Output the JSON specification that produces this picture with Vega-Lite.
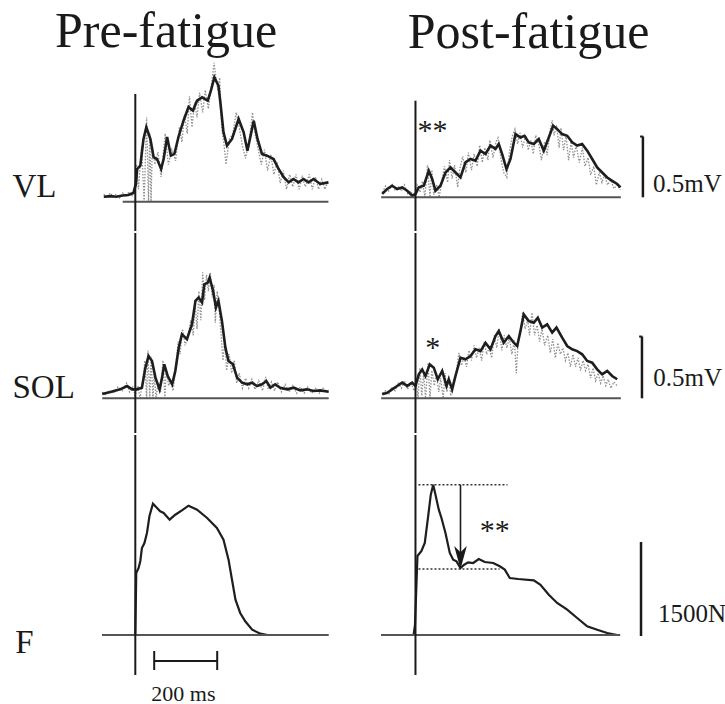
{
  "$schema": "https://vega.github.io/schema/vega-lite/v6.json",
  "background": "white",
  "padding": {"left": 3, "top": 7, "right": 0, "bottom": 0},
  "config": {
    "view": {"stroke": null},
    "axis": {"disable": true},
    "font": "Liberation Serif",
    "text": {"font": "Liberation Serif", "color": "#1a1a1a"}
  },
  "datasets": {
    "VL_pre_trials": [
      {"ms":-100,"mV":0.06},{"ms":-90,"mV":0.03},{"ms":-80,"mV":0.07},{"ms":-70,"mV":0.04},{"ms":-60,"mV":0.06},{"ms":-50,"mV":0.03},{"ms":-40,"mV":0.07},{"ms":-30,"mV":0.04},{"ms":-20,"mV":0.08},{"ms":-10,"mV":0.05},{"ms":-4,"mV":0.1},{"ms":4,"mV":0.3},{"ms":10,"mV":0.1},{"ms":20,"mV":0.45},{"ms":28,"mV":0.0},{"ms":36,"mV":0.68},{"ms":42,"mV":0.0},{"ms":46,"mV":0.55},{"ms":50,"mV":0.0},{"ms":54,"mV":0.45},{"ms":62,"mV":0.3},{"ms":72,"mV":0.4},{"ms":82,"mV":0.2},{"ms":95,"mV":0.55},{"ms":105,"mV":0.3},{"ms":116,"mV":0.42},{"ms":128,"mV":0.33},{"ms":140,"mV":0.6},{"ms":148,"mV":0.48},{"ms":156,"mV":0.7},{"ms":165,"mV":0.55},{"ms":172,"mV":0.85},{"ms":180,"mV":0.6},{"ms":188,"mV":0.8},{"ms":196,"mV":0.68},{"ms":204,"mV":0.88},{"ms":214,"mV":0.72},{"ms":222,"mV":0.9},{"ms":232,"mV":0.75},{"ms":242,"mV":0.95},{"ms":250,"mV":1.12},{"ms":256,"mV":1.0},{"ms":262,"mV":0.9},{"ms":268,"mV":1.0},{"ms":274,"mV":0.6},{"ms":282,"mV":0.45},{"ms":288,"mV":0.3},{"ms":298,"mV":0.5},{"ms":310,"mV":0.55},{"ms":320,"mV":0.72},{"ms":330,"mV":0.6},{"ms":340,"mV":0.45},{"ms":350,"mV":0.35},{"ms":362,"mV":0.5},{"ms":372,"mV":0.72},{"ms":380,"mV":0.55},{"ms":392,"mV":0.4},{"ms":400,"mV":0.3},{"ms":410,"mV":0.42},{"ms":420,"mV":0.25},{"ms":430,"mV":0.38},{"ms":440,"mV":0.22},{"ms":450,"mV":0.32},{"ms":460,"mV":0.15},{"ms":470,"mV":0.25},{"ms":480,"mV":0.1},{"ms":490,"mV":0.22},{"ms":500,"mV":0.12},{"ms":510,"mV":0.22},{"ms":520,"mV":0.1},{"ms":530,"mV":0.2},{"ms":540,"mV":0.12},{"ms":552,"mV":0.22},{"ms":562,"mV":0.1},{"ms":572,"mV":0.2},{"ms":582,"mV":0.1},{"ms":592,"mV":0.18},{"ms":602,"mV":0.1},{"ms":613,"mV":0.17}
    ],
    "VL_pre_mean": [
      {"ms":-100,"mV":0.04},{"ms":-80,"mV":0.045},{"ms":-60,"mV":0.04},{"ms":-40,"mV":0.05},{"ms":-22,"mV":0.054},{"ms":-6,"mV":0.07},{"ms":2,"mV":0.143},{"ms":6,"mV":0.264},{"ms":16,"mV":0.29},{"ms":26,"mV":0.506},{"ms":35,"mV":0.602},{"ms":48,"mV":0.506},{"ms":58,"mV":0.36},{"ms":69,"mV":0.344},{"ms":82,"mV":0.264},{"ms":90,"mV":0.344},{"ms":101,"mV":0.522},{"ms":113,"mV":0.371},{"ms":124,"mV":0.385},{"ms":137,"mV":0.522},{"ms":153,"mV":0.653},{"ms":169,"mV":0.764},{"ms":183,"mV":0.734},{"ms":196,"mV":0.815},{"ms":212,"mV":0.842},{"ms":230,"mV":0.815},{"ms":240,"mV":0.895},{"ms":251,"mV":1.003},{"ms":264,"mV":0.935},{"ms":270,"mV":0.802},{"ms":280,"mV":0.56},{"ms":291,"mV":0.452},{"ms":307,"mV":0.506},{"ms":328,"mV":0.667},{"ms":344,"mV":0.56},{"ms":356,"mV":0.411},{"ms":376,"mV":0.653},{"ms":388,"mV":0.506},{"ms":402,"mV":0.385},{"ms":418,"mV":0.371},{"ms":439,"mV":0.344},{"ms":455,"mV":0.264},{"ms":471,"mV":0.197},{"ms":487,"mV":0.156},{"ms":502,"mV":0.183},{"ms":518,"mV":0.156},{"ms":534,"mV":0.183},{"ms":550,"mV":0.156},{"ms":566,"mV":0.183},{"ms":587,"mV":0.143},{"ms":613,"mV":0.156}
    ],
    "VL_post_trials": [
      {"ms":-105,"mV":0.04},{"ms":-95,"mV":0.09},{"ms":-85,"mV":0.05},{"ms":-75,"mV":0.11},{"ms":-65,"mV":0.06},{"ms":-55,"mV":0.09},{"ms":-45,"mV":0.05},{"ms":-35,"mV":0.1},{"ms":-25,"mV":0.03},{"ms":-15,"mV":0.05},{"ms":-5,"mV":0.0},{"ms":5,"mV":0.1},{"ms":15,"mV":0.04},{"ms":22,"mV":0.13},{"ms":30,"mV":0.0},{"ms":38,"mV":0.26},{"ms":46,"mV":0.0},{"ms":52,"mV":0.22},{"ms":58,"mV":0.02},{"ms":68,"mV":0.1},{"ms":75,"mV":0.0},{"ms":85,"mV":0.15},{"ms":92,"mV":0.25},{"ms":102,"mV":0.12},{"ms":108,"mV":0.3},{"ms":116,"mV":0.15},{"ms":124,"mV":0.26},{"ms":134,"mV":0.08},{"ms":140,"mV":0.22},{"ms":150,"mV":0.33},{"ms":160,"mV":0.2},{"ms":168,"mV":0.36},{"ms":178,"mV":0.22},{"ms":186,"mV":0.35},{"ms":196,"mV":0.25},{"ms":204,"mV":0.42},{"ms":212,"mV":0.28},{"ms":220,"mV":0.4},{"ms":230,"mV":0.3},{"ms":236,"mV":0.46},{"ms":246,"mV":0.32},{"ms":256,"mV":0.45},{"ms":262,"mV":0.48},{"ms":272,"mV":0.3},{"ms":280,"mV":0.2},{"ms":290,"mV":0.16},{"ms":298,"mV":0.36},{"ms":308,"mV":0.5},{"ms":316,"mV":0.55},{"ms":324,"mV":0.43},{"ms":332,"mV":0.52},{"ms":340,"mV":0.4},{"ms":350,"mV":0.5},{"ms":358,"mV":0.38},{"ms":366,"mV":0.46},{"ms":374,"mV":0.35},{"ms":382,"mV":0.5},{"ms":392,"mV":0.42},{"ms":400,"mV":0.3},{"ms":410,"mV":0.45},{"ms":418,"mV":0.34},{"ms":428,"mV":0.55},{"ms":434,"mV":0.62},{"ms":440,"mV":0.5},{"ms":448,"mV":0.58},{"ms":456,"mV":0.4},{"ms":462,"mV":0.56},{"ms":470,"mV":0.38},{"ms":478,"mV":0.5},{"ms":486,"mV":0.3},{"ms":494,"mV":0.45},{"ms":502,"mV":0.32},{"ms":510,"mV":0.42},{"ms":520,"mV":0.28},{"ms":530,"mV":0.4},{"ms":538,"mV":0.25},{"ms":548,"mV":0.32},{"ms":556,"mV":0.18},{"ms":566,"mV":0.25},{"ms":574,"mV":0.1},{"ms":584,"mV":0.2},{"ms":592,"mV":0.12},{"ms":600,"mV":0.18},{"ms":610,"mV":0.1},{"ms":620,"mV":0.14},{"ms":630,"mV":0.07},{"ms":640,"mV":0.1},{"ms":650,"mV":0.06}
    ],
    "VL_post_mean": [
      {"ms":-105.7,"mV":0.027},{"ms":-89.8,"mV":0.067},{"ms":-74,"mV":0.093},{"ms":-58.1,"mV":0.067},{"ms":-42.2,"mV":0.08},{"ms":-26.3,"mV":0.053},{"ms":-10.5,"mV":0.013},{"ms":0,"mV":0.027},{"ms":10.5,"mV":0.08},{"ms":26.3,"mV":0.093},{"ms":42.2,"mV":0.214},{"ms":53,"mV":0.148},{"ms":63.5,"mV":0.053},{"ms":79.4,"mV":0.093},{"ms":95.2,"mV":0.2},{"ms":111.1,"mV":0.241},{"ms":127,"mV":0.2},{"ms":142.9,"mV":0.16},{"ms":158.7,"mV":0.282},{"ms":174.6,"mV":0.309},{"ms":190.5,"mV":0.295},{"ms":206.3,"mV":0.376},{"ms":222.2,"mV":0.349},{"ms":238.1,"mV":0.417},{"ms":254,"mV":0.39},{"ms":264.4,"mV":0.43},{"ms":275.2,"mV":0.349},{"ms":288.9,"mV":0.228},{"ms":301.6,"mV":0.309},{"ms":317.5,"mV":0.51},{"ms":333.3,"mV":0.482},{"ms":346,"mV":0.496},{"ms":359.7,"mV":0.443},{"ms":375.6,"mV":0.43},{"ms":391.4,"mV":0.47},{"ms":407.3,"mV":0.376},{"ms":423.2,"mV":0.482},{"ms":437.1,"mV":0.577},{"ms":449.8,"mV":0.55},{"ms":465.7,"mV":0.51},{"ms":481.6,"mV":0.496},{"ms":497.5,"mV":0.443},{"ms":513.3,"mV":0.417},{"ms":529.2,"mV":0.43},{"ms":545.1,"mV":0.376},{"ms":561,"mV":0.309},{"ms":576.8,"mV":0.241},{"ms":592.7,"mV":0.2},{"ms":608.6,"mV":0.16},{"ms":624.4,"mV":0.133},{"ms":640.3,"mV":0.107},{"ms":650.8,"mV":0.08}
    ],
    "SOL_pre_trials": [
      {"ms":-105,"mV":0.05},{"ms":-95,"mV":0.03},{"ms":-85,"mV":0.06},{"ms":-70,"mV":0.04},{"ms":-55,"mV":0.09},{"ms":-40,"mV":0.06},{"ms":-28,"mV":0.12},{"ms":-18,"mV":0.05},{"ms":-8,"mV":0.09},{"ms":0,"mV":0.02},{"ms":8,"mV":0.1},{"ms":15,"mV":0.0},{"ms":24,"mV":0.14},{"ms":30,"mV":0.3},{"ms":36,"mV":0.0},{"ms":40,"mV":0.38},{"ms":46,"mV":0.0},{"ms":50,"mV":0.33},{"ms":56,"mV":0.0},{"ms":60,"mV":0.2},{"ms":66,"mV":0.0},{"ms":72,"mV":0.12},{"ms":80,"mV":0.05},{"ms":88,"mV":0.3},{"ms":94,"mV":0.0},{"ms":98,"mV":0.22},{"ms":106,"mV":0.1},{"ms":112,"mV":0.15},{"ms":120,"mV":0.06},{"ms":130,"mV":0.3},{"ms":136,"mV":0.45},{"ms":142,"mV":0.35},{"ms":150,"mV":0.55},{"ms":158,"mV":0.42},{"ms":168,"mV":0.5},{"ms":176,"mV":0.62},{"ms":184,"mV":0.5},{"ms":190,"mV":0.75},{"ms":196,"mV":0.55},{"ms":202,"mV":0.85},{"ms":208,"mV":0.62},{"ms":214,"mV":1.0},{"ms":220,"mV":0.78},{"ms":226,"mV":0.98},{"ms":232,"mV":0.85},{"ms":238,"mV":1.0},{"ms":244,"mV":0.8},{"ms":250,"mV":0.9},{"ms":254,"mV":0.6},{"ms":260,"mV":0.85},{"ms":266,"mV":0.7},{"ms":272,"mV":0.52},{"ms":278,"mV":0.3},{"ms":284,"mV":0.45},{"ms":290,"mV":0.22},{"ms":298,"mV":0.35},{"ms":306,"mV":0.2},{"ms":314,"mV":0.3},{"ms":322,"mV":0.12},{"ms":330,"mV":0.2},{"ms":340,"mV":0.08},{"ms":350,"mV":0.16},{"ms":360,"mV":0.08},{"ms":370,"mV":0.15},{"ms":380,"mV":0.07},{"ms":392,"mV":0.14},{"ms":404,"mV":0.06},{"ms":414,"mV":0.17},{"ms":422,"mV":0.07},{"ms":432,"mV":0.13},{"ms":442,"mV":0.06},{"ms":452,"mV":0.13},{"ms":464,"mV":0.05},{"ms":476,"mV":0.11},{"ms":488,"mV":0.05},{"ms":500,"mV":0.1},{"ms":512,"mV":0.04},{"ms":524,"mV":0.09},{"ms":536,"mV":0.04},{"ms":548,"mV":0.09},{"ms":560,"mV":0.04},{"ms":572,"mV":0.08},{"ms":584,"mV":0.04},{"ms":596,"mV":0.08},{"ms":606,"mV":0.05},{"ms":614,"mV":0.07}
    ],
    "SOL_pre_mean": [
      {"ms":-105,"mV":0.034},{"ms":-79,"mV":0.05},{"ms":-48,"mV":0.071},{"ms":-26,"mV":0.097},{"ms":-10,"mV":0.071},{"ms":5,"mV":0.071},{"ms":21,"mV":0.083},{"ms":32,"mV":0.242},{"ms":42,"mV":0.336},{"ms":53,"mV":0.296},{"ms":64,"mV":0.164},{"ms":77,"mV":0.071},{"ms":85,"mV":0.164},{"ms":92,"mV":0.27},{"ms":103,"mV":0.177},{"ms":117,"mV":0.111},{"ms":127,"mV":0.217},{"ms":138,"mV":0.402},{"ms":148,"mV":0.508},{"ms":164,"mV":0.469},{"ms":180,"mV":0.588},{"ms":191,"mV":0.773},{"ms":201,"mV":0.8},{"ms":212,"mV":0.76},{"ms":219,"mV":0.905},{"ms":230,"mV":0.918},{"ms":236,"mV":0.958},{"ms":247,"mV":0.852},{"ms":256,"mV":0.72},{"ms":264,"mV":0.773},{"ms":275,"mV":0.614},{"ms":286,"mV":0.402},{"ms":296,"mV":0.296},{"ms":310,"mV":0.27},{"ms":323,"mV":0.164},{"ms":339,"mV":0.124},{"ms":355,"mV":0.111},{"ms":371,"mV":0.124},{"ms":386,"mV":0.097},{"ms":402,"mV":0.111},{"ms":416,"mV":0.137},{"ms":429,"mV":0.084},{"ms":444,"mV":0.111},{"ms":460,"mV":0.084},{"ms":482,"mV":0.071},{"ms":503,"mV":0.084},{"ms":524,"mV":0.063},{"ms":545,"mV":0.071},{"ms":566,"mV":0.058},{"ms":587,"mV":0.063},{"ms":614,"mV":0.052}
    ],
    "SOL_post_trials": [
      {"ms":-105,"mV":0.04},{"ms":-95,"mV":0.06},{"ms":-85,"mV":0.03},{"ms":-75,"mV":0.09},{"ms":-65,"mV":0.06},{"ms":-55,"mV":0.12},{"ms":-45,"mV":0.08},{"ms":-35,"mV":0.14},{"ms":-25,"mV":0.07},{"ms":-15,"mV":0.13},{"ms":-5,"mV":0.06},{"ms":3,"mV":0.12},{"ms":8,"mV":0.0},{"ms":14,"mV":0.24},{"ms":20,"mV":0.02},{"ms":26,"mV":0.2},{"ms":32,"mV":0.0},{"ms":40,"mV":0.28},{"ms":46,"mV":0.0},{"ms":52,"mV":0.22},{"ms":60,"mV":0.1},{"ms":66,"mV":0.2},{"ms":74,"mV":0.05},{"ms":80,"mV":0.16},{"ms":88,"mV":0.0},{"ms":94,"mV":0.2},{"ms":100,"mV":0.05},{"ms":106,"mV":0.18},{"ms":112,"mV":0.02},{"ms":120,"mV":0.14},{"ms":130,"mV":0.22},{"ms":138,"mV":0.36},{"ms":146,"mV":0.26},{"ms":154,"mV":0.33},{"ms":162,"mV":0.25},{"ms":170,"mV":0.38},{"ms":178,"mV":0.3},{"ms":186,"mV":0.42},{"ms":194,"mV":0.32},{"ms":202,"mV":0.4},{"ms":210,"mV":0.3},{"ms":218,"mV":0.45},{"ms":226,"mV":0.35},{"ms":234,"mV":0.4},{"ms":242,"mV":0.32},{"ms":250,"mV":0.5},{"ms":258,"mV":0.4},{"ms":266,"mV":0.55},{"ms":274,"mV":0.38},{"ms":282,"mV":0.5},{"ms":290,"mV":0.4},{"ms":298,"mV":0.48},{"ms":306,"mV":0.35},{"ms":314,"mV":0.46},{"ms":320,"mV":0.2},{"ms":326,"mV":0.45},{"ms":334,"mV":0.55},{"ms":340,"mV":0.68},{"ms":348,"mV":0.55},{"ms":356,"mV":0.62},{"ms":362,"mV":0.5},{"ms":370,"mV":0.68},{"ms":378,"mV":0.5},{"ms":386,"mV":0.58},{"ms":394,"mV":0.45},{"ms":402,"mV":0.55},{"ms":410,"mV":0.42},{"ms":420,"mV":0.5},{"ms":428,"mV":0.36},{"ms":436,"mV":0.47},{"ms":444,"mV":0.32},{"ms":452,"mV":0.44},{"ms":460,"mV":0.35},{"ms":468,"mV":0.4},{"ms":476,"mV":0.3},{"ms":484,"mV":0.36},{"ms":492,"mV":0.25},{"ms":500,"mV":0.35},{"ms":508,"mV":0.25},{"ms":516,"mV":0.32},{"ms":524,"mV":0.22},{"ms":532,"mV":0.3},{"ms":540,"mV":0.22},{"ms":548,"mV":0.27},{"ms":556,"mV":0.16},{"ms":564,"mV":0.24},{"ms":572,"mV":0.14},{"ms":580,"mV":0.2},{"ms":588,"mV":0.12},{"ms":596,"mV":0.18},{"ms":604,"mV":0.1},{"ms":612,"mV":0.15},{"ms":620,"mV":0.08},{"ms":630,"mV":0.13},{"ms":640,"mV":0.1}
    ],
    "SOL_post_mean": [
      {"ms":-105.7,"mV":0.032},{"ms":-89.8,"mV":0.044},{"ms":-74,"mV":0.071},{"ms":-58.1,"mV":0.098},{"ms":-42.2,"mV":0.124},{"ms":-26.3,"mV":0.098},{"ms":-10.5,"mV":0.124},{"ms":0,"mV":0.098},{"ms":10.5,"mV":0.19},{"ms":21.3,"mV":0.229},{"ms":31.7,"mV":0.177},{"ms":45.4,"mV":0.269},{"ms":58.1,"mV":0.243},{"ms":70.8,"mV":0.151},{"ms":84.8,"mV":0.217},{"ms":98.4,"mV":0.098},{"ms":105.7,"mV":0.151},{"ms":116.5,"mV":0.071},{"ms":127,"mV":0.177},{"ms":142.9,"mV":0.322},{"ms":158.7,"mV":0.309},{"ms":174.6,"mV":0.336},{"ms":190.5,"mV":0.389},{"ms":206.3,"mV":0.375},{"ms":222.2,"mV":0.441},{"ms":238.1,"mV":0.389},{"ms":254,"mV":0.494},{"ms":264.4,"mV":0.534},{"ms":280.3,"mV":0.441},{"ms":296.2,"mV":0.494},{"ms":312.1,"mV":0.441},{"ms":322.9,"mV":0.415},{"ms":333.3,"mV":0.534},{"ms":343.8,"mV":0.666},{"ms":359.7,"mV":0.613},{"ms":375.6,"mV":0.6},{"ms":388.3,"mV":0.64},{"ms":402.2,"mV":0.561},{"ms":418.1,"mV":0.587},{"ms":434,"mV":0.521},{"ms":447.6,"mV":0.561},{"ms":465.7,"mV":0.481},{"ms":481.6,"mV":0.415},{"ms":497.5,"mV":0.389},{"ms":513.3,"mV":0.375},{"ms":529.2,"mV":0.349},{"ms":545.1,"mV":0.296},{"ms":561,"mV":0.283},{"ms":576.8,"mV":0.23},{"ms":592.7,"mV":0.19},{"ms":608.6,"mV":0.217},{"ms":624.4,"mV":0.177},{"ms":640.3,"mV":0.151}
    ],
    "F_pre": [
      {"ms":-105,"N":0},{"ms":-48,"N":0},{"ms":-3,"N":0},{"ms":0,"N":0},{"ms":3,"N":1000},{"ms":10.5,"N":1081},{"ms":16,"N":1194},{"ms":21,"N":1403},{"ms":29,"N":1484},{"ms":37,"N":1645},{"ms":45,"N":1919},{"ms":56,"N":2118},{"ms":69,"N":2048},{"ms":79,"N":1995},{"ms":90,"N":1968},{"ms":109,"N":1860},{"ms":127,"N":1940},{"ms":148,"N":2011},{"ms":169,"N":2086},{"ms":196,"N":2021},{"ms":228,"N":1887},{"ms":259,"N":1726},{"ms":280,"N":1537},{"ms":296,"N":1215},{"ms":307,"N":892},{"ms":318,"N":569},{"ms":333,"N":355},{"ms":349,"N":221},{"ms":371,"N":85},{"ms":397,"N":21},{"ms":420,"N":0},{"ms":613,"N":0}
    ],
    "F_post": [
      {"ms":-109,"N":0},{"ms":-6,"N":0},{"ms":-1.6,"N":160},{"ms":6.3,"N":1274},{"ms":19,"N":1355},{"ms":29.5,"N":1484},{"ms":40.3,"N":1919},{"ms":48.6,"N":2263},{"ms":56.2,"N":2424},{"ms":63.5,"N":2263},{"ms":74,"N":2021},{"ms":82.5,"N":1887},{"ms":95.2,"N":1645},{"ms":108.9,"N":1323},{"ms":119.7,"N":1215},{"ms":130.2,"N":1188},{"ms":142.9,"N":1081},{"ms":154.6,"N":1134},{"ms":167.3,"N":1172},{"ms":183.2,"N":1161},{"ms":201,"N":1226},{"ms":220,"N":1177},{"ms":246.7,"N":1161},{"ms":267.6,"N":1108},{"ms":283.5,"N":1054},{"ms":299.4,"N":919},{"ms":326,"N":903},{"ms":375.6,"N":882},{"ms":396.8,"N":811},{"ms":423.2,"N":650},{"ms":449.8,"N":516},{"ms":481.6,"N":408},{"ms":513.3,"N":274},{"ms":545.1,"N":140},{"ms":576.8,"N":85},{"ms":608.6,"N":32},{"ms":640.3,"N":0}
    ]
  },
  "spacing": 42.2,
  "hconcat": [
    {
      "title": {"text": "Pre-fatigue", "anchor": "start", "dx": 52, "fontSize": 50, "font": "Liberation Serif", "fontWeight": "normal", "color": "#1a1a1a", "baseline": "alphabetic", "offset": -37},
      "spacing": 0,
      "vconcat": [
        {
          "width": 330.75, "height": 170,
          "layer": [
            {"data": {"name": "VL_pre_trials"}, "mark": {"type": "line", "color": "#8f8f8f", "strokeWidth": 1.3, "strokeDash": [1.5, 1.5]},
             "encoding": {"x": {"field": "ms", "type": "quantitative", "scale": {"domain": [-420, 630], "nice": false, "zero": false}, "axis": null},
                          "y": {"field": "mV", "type": "quantitative", "scale": {"domain": [-0.2363, 1.1347], "nice": false, "zero": false}, "axis": null}}},
            {"data": {"name": "VL_pre_mean"}, "mark": {"type": "line", "color": "#1e1e1e", "strokeWidth": 2.6},
             "encoding": {"x": {"field": "ms", "type": "quantitative"}, "y": {"field": "mV", "type": "quantitative"}}},
            {"data": {"values": [{}]}, "mark": {"type": "rule", "color": "#555555", "strokeWidth": 2},
             "encoding": {"x": {"datum": -40}, "x2": {"datum": 613}, "y": {"datum": 0}}},
            {"data": {"values": [{}]}, "mark": {"type": "rule", "color": "#1a1a1a", "strokeWidth": 2},
             "encoding": {"x": {"datum": 0}, "y": {"datum": 0.869}, "y2": {"datum": -0.2363}}},
            {"data": {"values": [{}]}, "mark": {"type": "text", "align": "left", "baseline": "alphabetic", "fontSize": 33},
             "encoding": {"x": {"datum": -390}, "y": {"datum": 0.038}, "text": {"value": "VL"}}}
          ]
        },
        {
          "width": 330.75, "height": 200,
          "layer": [
            {"data": {"name": "SOL_pre_trials"}, "mark": {"type": "line", "color": "#8f8f8f", "strokeWidth": 1.3, "strokeDash": [1.5, 1.5]},
             "encoding": {"x": {"field": "ms", "type": "quantitative", "scale": {"domain": [-420, 630], "nice": false, "zero": false}, "axis": null},
                          "y": {"field": "mV", "type": "quantitative", "scale": {"domain": [-0.2754, 1.3119], "nice": false, "zero": false}, "axis": null}}},
            {"data": {"name": "SOL_pre_mean"}, "mark": {"type": "line", "color": "#1e1e1e", "strokeWidth": 2.6},
             "encoding": {"x": {"field": "ms", "type": "quantitative"}, "y": {"field": "mV", "type": "quantitative"}}},
            {"data": {"values": [{}]}, "mark": {"type": "rule", "color": "#555555", "strokeWidth": 2},
             "encoding": {"x": {"datum": -105}, "x2": {"datum": 614}, "y": {"datum": 0}}},
            {"data": {"values": [{}]}, "mark": {"type": "rule", "color": "#1a1a1a", "strokeWidth": 2},
             "encoding": {"x": {"datum": 0}, "y": {"datum": 1.3119}, "y2": {"datum": -0.2754}}},
            {"data": {"values": [{}]}, "mark": {"type": "text", "align": "left", "baseline": "alphabetic", "fontSize": 33},
             "encoding": {"x": {"datum": -390}, "y": {"datum": 0.0}, "text": {"value": "SOL"}}}
          ]
        },
        {
          "width": 330.75, "height": 272,
          "layer": [
            {"data": {"name": "F_pre"}, "mark": {"type": "line", "color": "#1e1e1e", "strokeWidth": 2.2},
             "encoding": {"x": {"field": "ms", "type": "quantitative", "scale": {"domain": [-420, 630], "nice": false, "zero": false}, "axis": null},
                          "y": {"field": "N", "type": "quantitative", "scale": {"domain": [-1161.3, 3225.8], "nice": false, "zero": false}, "axis": null}}},
            {"data": {"values": [{}]}, "mark": {"type": "rule", "color": "#555555", "strokeWidth": 2},
             "encoding": {"x": {"datum": -105}, "x2": {"datum": 613}, "y": {"datum": 0}}},
            {"data": {"values": [{}]}, "mark": {"type": "rule", "color": "#1a1a1a", "strokeWidth": 2},
             "encoding": {"x": {"datum": 0}, "y": {"datum": 3225.8}, "y2": {"datum": -645}}},
            {"data": {"values": [{}]}, "mark": {"type": "rule", "color": "#1a1a1a", "strokeWidth": 2},
             "encoding": {"x": {"datum": 60}, "x2": {"datum": 260}, "y": {"datum": -419}}},
            {"data": {"values": [{}]}, "mark": {"type": "rule", "color": "#1a1a1a", "strokeWidth": 2},
             "encoding": {"x": {"datum": 60}, "y": {"datum": -258}, "y2": {"datum": -565}}},
            {"data": {"values": [{}]}, "mark": {"type": "rule", "color": "#1a1a1a", "strokeWidth": 2},
             "encoding": {"x": {"datum": 260}, "y": {"datum": -258}, "y2": {"datum": -565}}},
            {"data": {"values": [{}]}, "mark": {"type": "text", "align": "left", "baseline": "alphabetic", "fontSize": 22},
             "encoding": {"x": {"datum": 51}, "y": {"datum": -1065}, "text": {"value": "200 ms"}}},
            {"data": {"values": [{}]}, "mark": {"type": "text", "align": "left", "baseline": "alphabetic", "fontSize": 33},
             "encoding": {"x": {"datum": -381}, "y": {"datum": -290}, "text": {"value": "F"}}}
          ]
        }
      ]
    },
    {
      "title": {"text": "Post-fatigue", "anchor": "start", "dx": 31, "fontSize": 50, "font": "Liberation Serif", "fontWeight": "normal", "color": "#1a1a1a", "baseline": "alphabetic", "offset": -37},
      "spacing": 0,
      "vconcat": [
        {
          "width": 343.98, "height": 170,
          "layer": [
            {"data": {"name": "VL_post_trials"}, "mark": {"type": "line", "color": "#8f8f8f", "strokeWidth": 1.3, "strokeDash": [1.5, 1.5]},
             "encoding": {"x": {"field": "ms", "type": "quantitative", "scale": {"domain": [-112, 980], "nice": false, "zero": false}, "axis": null},
                          "y": {"field": "mV", "type": "quantitative", "scale": {"domain": [-0.2718, 1.0992], "nice": false, "zero": false}, "axis": null}}},
            {"data": {"name": "VL_post_mean"}, "mark": {"type": "line", "color": "#1e1e1e", "strokeWidth": 2.6},
             "encoding": {"x": {"field": "ms", "type": "quantitative"}, "y": {"field": "mV", "type": "quantitative"}}},
            {"data": {"values": [{}]}, "mark": {"type": "rule", "color": "#555555", "strokeWidth": 2},
             "encoding": {"x": {"datum": -109}, "x2": {"datum": 652}, "y": {"datum": 0}}},
            {"data": {"values": [{}]}, "mark": {"type": "rule", "color": "#1a1a1a", "strokeWidth": 2},
             "encoding": {"x": {"datum": 0}, "y": {"datum": 0.779}, "y2": {"datum": -0.2718}}},
            {"data": {"values": [{}]}, "mark": {"type": "text", "align": "center", "baseline": "alphabetic", "fontSize": 30},
             "encoding": {"x": {"datum": 54}, "y": {"datum": 0.462}, "text": {"value": "**"}}},
            {"data": {"values": [{}]}, "mark": {"type": "rule", "color": "#1a1a1a", "strokeWidth": 2.5},
             "encoding": {"x": {"datum": 722}, "y": {"datum": 0.0}, "y2": {"datum": 0.49}}},
            {"data": {"values": [{}]}, "mark": {"type": "rule", "color": "#1a1a1a", "strokeWidth": 2},
             "encoding": {"x": {"datum": 713}, "x2": {"datum": 723}, "y": {"datum": 0.49}}},
            {"data": {"values": [{}]}, "mark": {"type": "text", "align": "left", "baseline": "alphabetic", "fontSize": 25},
             "encoding": {"x": {"datum": 754}, "y": {"datum": 0.043}, "text": {"value": "0.5mV"}}}
          ]
        },
        {
          "width": 343.98, "height": 200,
          "layer": [
            {"data": {"name": "SOL_post_trials"}, "mark": {"type": "line", "color": "#8f8f8f", "strokeWidth": 1.3, "strokeDash": [1.5, 1.5]},
             "encoding": {"x": {"field": "ms", "type": "quantitative", "scale": {"domain": [-112, 980], "nice": false, "zero": false}, "axis": null},
                          "y": {"field": "mV", "type": "quantitative", "scale": {"domain": [-0.2754, 1.3119], "nice": false, "zero": false}, "axis": null}}},
            {"data": {"name": "SOL_post_mean"}, "mark": {"type": "line", "color": "#1e1e1e", "strokeWidth": 2.6},
             "encoding": {"x": {"field": "ms", "type": "quantitative"}, "y": {"field": "mV", "type": "quantitative"}}},
            {"data": {"values": [{}]}, "mark": {"type": "rule", "color": "#555555", "strokeWidth": 2},
             "encoding": {"x": {"datum": -109}, "x2": {"datum": 652}, "y": {"datum": 0}}},
            {"data": {"values": [{}]}, "mark": {"type": "rule", "color": "#1a1a1a", "strokeWidth": 2},
             "encoding": {"x": {"datum": 0}, "y": {"datum": 1.3119}, "y2": {"datum": -0.2754}}},
            {"data": {"values": [{}]}, "mark": {"type": "text", "align": "center", "baseline": "alphabetic", "fontSize": 30},
             "encoding": {"x": {"datum": 55}, "y": {"datum": 0.33}, "text": {"value": "*"}}},
            {"data": {"values": [{}]}, "mark": {"type": "rule", "color": "#1a1a1a", "strokeWidth": 2.5},
             "encoding": {"x": {"datum": 719}, "y": {"datum": 0.0}, "y2": {"datum": 0.49}}},
            {"data": {"values": [{}]}, "mark": {"type": "rule", "color": "#1a1a1a", "strokeWidth": 2},
             "encoding": {"x": {"datum": 710}, "x2": {"datum": 720}, "y": {"datum": 0.49}}},
            {"data": {"values": [{}]}, "mark": {"type": "text", "align": "left", "baseline": "alphabetic", "fontSize": 25},
             "encoding": {"x": {"datum": 755}, "y": {"datum": 0.098}, "text": {"value": "0.5mV"}}}
          ]
        },
        {
          "width": 343.98, "height": 272,
          "layer": [
            {"data": {"name": "F_post"}, "mark": {"type": "line", "color": "#1e1e1e", "strokeWidth": 2.2},
             "encoding": {"x": {"field": "ms", "type": "quantitative", "scale": {"domain": [-112, 980], "nice": false, "zero": false}, "axis": null},
                          "y": {"field": "N", "type": "quantitative", "scale": {"domain": [-1161.3, 3225.8], "nice": false, "zero": false}, "axis": null}}},
            {"data": {"values": [{}]}, "mark": {"type": "rule", "color": "#555555", "strokeWidth": 2},
             "encoding": {"x": {"datum": -109}, "x2": {"datum": 650}, "y": {"datum": 0}}},
            {"data": {"values": [{}]}, "mark": {"type": "rule", "color": "#1a1a1a", "strokeWidth": 2},
             "encoding": {"x": {"datum": 0}, "y": {"datum": 3225.8}, "y2": {"datum": -645}}},
            {"data": {"values": [{}]}, "mark": {"type": "rule", "color": "#333333", "strokeWidth": 1.6, "strokeDash": [2, 2]},
             "encoding": {"x": {"datum": 9.5}, "x2": {"datum": 292}, "y": {"datum": 2424}}},
            {"data": {"values": [{}]}, "mark": {"type": "rule", "color": "#333333", "strokeWidth": 1.6, "strokeDash": [2, 2]},
             "encoding": {"x": {"datum": 9.5}, "x2": {"datum": 267}, "y": {"datum": 1065}}},
            {"data": {"values": [{}]}, "mark": {"type": "rule", "color": "#1a1a1a", "strokeWidth": 1.6},
             "encoding": {"x": {"datum": 142.9}, "y": {"datum": 2424}, "y2": {"datum": 1300}}},
            {"data": {"values": [{}]}, "mark": {"type": "point", "shape": "M -0.55 -1 L 0 1 L 0.55 -1 L 0 -0.45 Z", "size": 529, "filled": true, "color": "#1a1a1a", "opacity": 1},
             "encoding": {"x": {"datum": 142.9}, "y": {"datum": 1250}}},
            {"data": {"values": [{}]}, "mark": {"type": "text", "align": "center", "baseline": "alphabetic", "fontSize": 30},
             "encoding": {"x": {"datum": 252}, "y": {"datum": 1532}, "text": {"value": "**"}}},
            {"data": {"values": [{}]}, "mark": {"type": "rule", "color": "#1a1a1a", "strokeWidth": 2.5},
             "encoding": {"x": {"datum": 716}, "y": {"datum": -16}, "y2": {"datum": 1500}}},
            {"data": {"values": [{}]}, "mark": {"type": "text", "align": "left", "baseline": "alphabetic", "fontSize": 25},
             "encoding": {"x": {"datum": 770}, "y": {"datum": 210}, "text": {"value": "1500N"}}}
          ]
        }
      ]
    }
  ]
}
